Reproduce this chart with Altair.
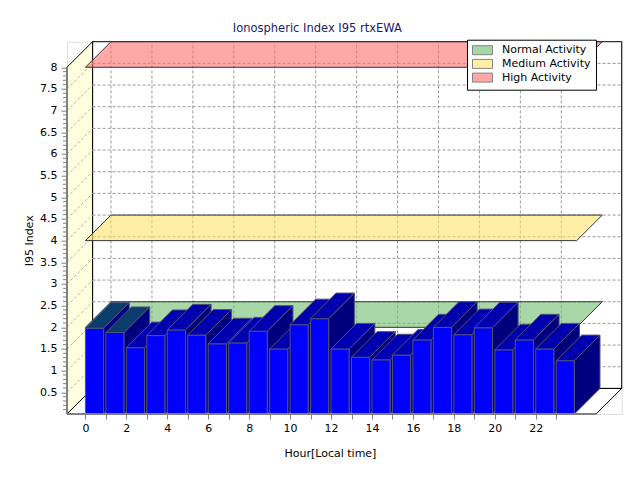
import altair as alt
import pandas as pd

# ---------------- data ----------------
hours = list(range(24))
i95 = [1.98, 1.88, 1.53, 1.81, 1.94, 1.82, 1.62, 1.64, 1.91, 1.50, 2.06, 2.20,
       1.50, 1.31, 1.25, 1.36, 1.71, 2.00, 1.83, 1.99, 1.48, 1.71, 1.50, 1.23]
level_names = ["Normal Activity", "Medium Activity", "High Activity"]
level_values = [2, 4, 8]
y_tick_values = [0.5 * k for k in range(1, 17)]
y_minor_values = [round(0.1 * k, 1) for k in range(1, 80) if k % 5 != 0]
x_tick_values = list(range(24))
x_grid_hours = list(range(0, 24, 2))
dim_top_hours = [0, 1]

# ---------------- 3D frame geometry (data units) ----------------
XMIN, XFRONT, XMAX = -0.9, 24.95, 26.2
YFRONT, YMAX = 8.0, 8.59
DX, DY = XMAX - XFRONT, YMAX - YFRONT
BW = 0.89
PLANE_X0, PLANE_X1 = 0, 24

FONT = "DejaVu Sans"
xs = alt.Scale(domain=[XMIN, XMAX], nice=False, zero=False)
ys = alt.Scale(domain=[0, YMAX], nice=False, zero=False)

x_axis = alt.Axis(
    values=x_tick_values, format="d",
    labelExpr="datum.value % 2 == 0 ? datum.label : ''",
    domain=False, grid=False, tickColor="#808080", tickSize=5, tickWidth=1,
    labelFont=FONT, labelFontSize=11, labelColor="black", labelPadding=4,
    labelFlush=False, labelOverlap=False,
    title="Hour[Local time]", titleFont=FONT, titleFontSize=11, titleFontWeight="normal",
    titleColor="black", titleX=263, titleY=40, titleBaseline="middle", titleAlign="center")
y_axis = alt.Axis(
    values=y_tick_values, format="~g",
    domain=False, grid=False, tickColor="#808080", tickSize=6, tickWidth=1,
    labelFont=FONT, labelFontSize=11, labelColor="black", labelPadding=4,
    labelFlush=False, labelOverlap=False,
    title="I95 Index", titleFont=FONT, titleFontSize=11, titleFontWeight="normal",
    titleColor="black", titleX=-37, titleY=198.6, titleAngle=-90,
    titleBaseline="middle", titleAlign="center")


def X(field="x"):
    return alt.X(f"{field}:Q", scale=xs, axis=x_axis, title="Hour[Local time]")


def Y(field="y"):
    return alt.Y(f"{field}:Q", scale=ys, axis=y_axis, stack=None, title="I95 Index")


def slab(x0, width, level):
    """horizontal parallelogram (depth face) as vertical-orient area points"""
    if width >= DX:
        return [(x0, level, level), (x0 + DX, level, level + DY),
                (x0 + width, level, level + DY), (x0 + width + DX, level + DY, level + DY)]
    return [(x0, level, level), (x0 + width, level, level + DY * width / DX),
            (x0 + DX, level + DY * (DX - width) / DX, level + DY),
            (x0 + width + DX, level + DY, level + DY)]


# back wall
back_df = pd.DataFrame([{"x": XMIN + DX, "x2": XMAX, "y": DY, "y2": YMAX}])
back = alt.Chart(back_df).mark_rect(fill="white", stroke="black", strokeWidth=1).encode(
    x=X(), x2="x2:Q", y=Y(), y2="y2:Q")

# left wall
left_df = pd.DataFrame([{"x": XMIN, "y": 0.0, "y2": YFRONT},
                        {"x": XMIN + DX, "y": DY, "y2": YFRONT + DY}])
left = alt.Chart(left_df).mark_area(orient="vertical", fill="#FFFFE0", stroke="black",
                                    strokeWidth=1).encode(x=X(), y=Y(), y2="y2:Q")

# floor
floor_df = pd.DataFrame([{"x": a, "y": b, "y2": c}
                         for a, b, c in slab(XMIN, XFRONT - XMIN, 0.0)])
floor = alt.Chart(floor_df).mark_area(orient="vertical", fill="white", stroke="black",
                                      strokeWidth=1).encode(x=X(), y=Y(), y2="y2:Q")

# grid lines on back wall and left wall
gh_df = pd.DataFrame([{"x": XMIN + DX, "x2": XMAX, "y": v + DY} for v in y_tick_values[:-1]])
grid_h = alt.Chart(gh_df).mark_rule(color="#9a9a9a", strokeDash=[3, 2], strokeWidth=1).encode(
    x=X(), x2="x2:Q", y=Y())
gv_df = pd.DataFrame([{"x": h + DX, "y": DY, "y2": YMAX} for h in x_grid_hours])
grid_v = alt.Chart(gv_df).mark_rule(color="#9a9a9a", strokeDash=[3, 2], strokeWidth=1).encode(
    x=X(), y=Y(), y2="y2:Q")
gd_df = pd.DataFrame([{"x": XMIN, "x2": XMIN + DX, "y": v, "y2": v + DY}
                      for v in y_tick_values[:-1]])
grid_d = alt.Chart(gd_df).mark_rule(color="#b4b4a0", strokeDash=[3, 2], strokeWidth=1).encode(
    x=X(), x2="x2:Q", y=Y(), y2="y2:Q")

# activity planes
plane_rows = []
for name, lv in zip(level_names, level_values):
    for a, b, c in slab(PLANE_X0, PLANE_X1 - PLANE_X0, lv):
        plane_rows.append({"level": name, "x": a, "y": b, "y2": c})
plane_df = pd.DataFrame(plane_rows)
planes = alt.Chart(plane_df).mark_area(orient="vertical", fillOpacity=0.6, stroke="#333333",
                                       strokeWidth=1).encode(
    x=X(), y=Y(), y2="y2:Q",
    color=alt.Color("level:N",
                    scale=alt.Scale(domain=level_names,
                                    range=["#6EBE6E", "#FFE36B", "#FF6E6E"]),
                    legend=alt.Legend(
                        orient="none", legendX=400, legendY=-2, title=None,
                        fillColor="white", strokeColor="black", padding=5,
                        symbolType="M-1,-0.9L3,-0.9L3,0.9L-1,0.9Z", symbolSize=100,
                        symbolStrokeColor="#333333", symbolStrokeWidth=1,
                        symbolOpacity=0.6,
                        labelFont=FONT, labelFontSize=11, labelColor="black",
                        labelOffset=19, rowPadding=0.7)),
    detail="level:N",
)

# 3D bars: front, top and right side of each bar, painted left to right
face_names = ["front", "top", "side", "top_dim"]
face_colors = ["#0000FF", "#0000AF", "#00007F", "#0A3C6C"]
bar_rows = []
for h, v in zip(hours, i95):
    key = f"{h:02d}"
    for a, b, c in [(h, 0.0, v), (h + BW, 0.0, v)]:
        bar_rows.append({"key": key + "_0", "face": "front", "x": a, "y": b, "y2": c})
    tface = "top_dim" if h in dim_top_hours else "top"
    for a, b, c in slab(h, BW, v):
        bar_rows.append({"key": key + "_1", "face": tface, "x": a, "y": b, "y2": c})
    for a, b, c in [(h + BW, 0.0, v), (h + BW + DX, DY, v + DY)]:
        bar_rows.append({"key": key + "_2", "face": "side", "x": a, "y": b, "y2": c})
bar_df = pd.DataFrame(bar_rows)
bars = alt.Chart(bar_df).mark_area(orient="vertical", stroke="#50507a", strokeWidth=1,
                                   strokeJoin="miter").encode(
    x=X(), y=Y(), y2="y2:Q",
    fill=alt.Fill("face:N", scale=alt.Scale(domain=face_names, range=face_colors), legend=None),
    detail="key:N",
)

# front axis lines and minor ticks
ax_df = pd.DataFrame([{"x": XMIN, "x2": XMIN, "y": 0.0, "y2": YFRONT},
                      {"x": XMIN, "x2": XFRONT, "y": 0.0, "y2": 0.0}])
front_axes = alt.Chart(ax_df).mark_rule(color="#808080", strokeWidth=2).encode(
    x=X(), x2="x2:Q", y=Y(), y2="y2:Q")
minor_df = pd.DataFrame({"x": [XMIN] * len(y_minor_values), "y": y_minor_values})
minor = alt.Chart(minor_df).mark_tick(orient="horizontal", size=3, thickness=1,
                                      color="#808080", xOffset=-2.5, opacity=1).encode(
    x=X(), y=Y())

chart = alt.layer(back, left, floor, grid_h, grid_v, grid_d, planes, bars, front_axes, minor
                  ).resolve_scale(color="independent", fill="independent").properties(
    width=554.7, height=372.3,
    autosize=alt.AutoSizeParams(type="none"),
    padding={"left": 59, "top": 33.7, "right": 10, "bottom": 55},
    background="white",
    title=alt.Title("Ionospheric Index I95 rtxEWA", font=FONT, fontSize=11.5,
                    fontWeight="normal", color="#1c1c6c", anchor="middle",
                    frame="group", dx=-27, offset=-1, baseline="middle"),
).configure_view(stroke=None).configure(font=FONT)

chart.save("out.html", embed_options={"renderer": "svg", "actions": False})
